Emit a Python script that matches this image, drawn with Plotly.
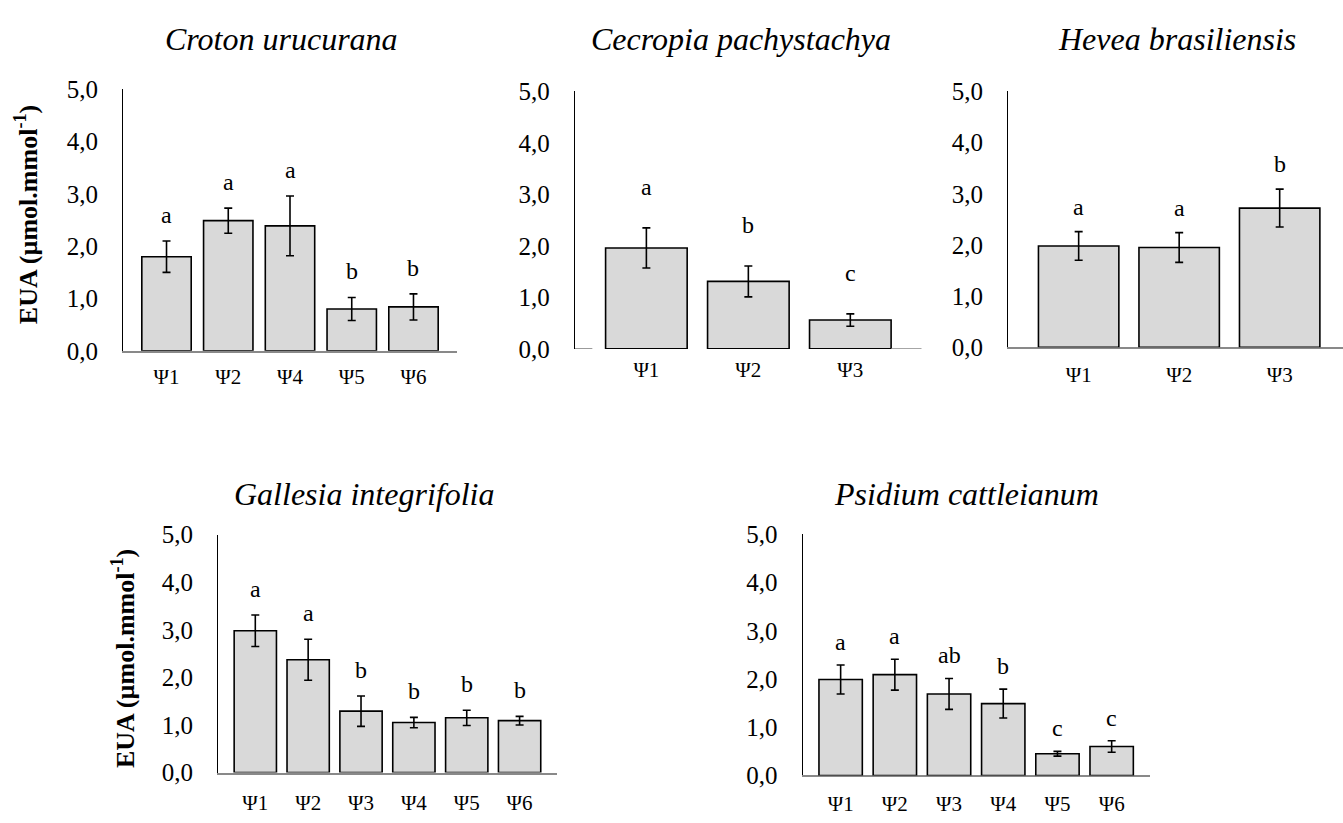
import plotly.graph_objects as go

# ---- data: water-use efficiency (EUA) per species and water-potential level ----
croton_cats = ["Ψ1", "Ψ2", "Ψ4", "Ψ5", "Ψ6"]
croton_mean = [1.80, 2.49, 2.39, 0.80, 0.84]
croton_err = [0.30, 0.24, 0.57, 0.22, 0.25]
croton_letters = ["a", "a", "a", "b", "b"]

cecropia_cats = ["Ψ1", "Ψ2", "Ψ3"]
cecropia_mean = [1.96, 1.31, 0.56]
cecropia_err = [0.39, 0.30, 0.12]
cecropia_letters = ["a", "b", "c"]

hevea_cats = ["Ψ1", "Ψ2", "Ψ3"]
hevea_mean = [1.98, 1.95, 2.72]
hevea_err = [0.28, 0.29, 0.37]
hevea_letters = ["a", "a", "b"]

gallesia_cats = ["Ψ1", "Ψ2", "Ψ3", "Ψ4", "Ψ5", "Ψ6"]
gallesia_mean = [2.98, 2.37, 1.29, 1.05, 1.15, 1.09]
gallesia_err = [0.33, 0.43, 0.32, 0.11, 0.16, 0.09]
gallesia_letters = ["a", "a", "b", "b", "b", "b"]

psidium_cats = ["Ψ1", "Ψ2", "Ψ3", "Ψ4", "Ψ5", "Ψ6"]
psidium_mean = [1.99, 2.09, 1.69, 1.49, 0.45, 0.60]
psidium_err = [0.30, 0.32, 0.32, 0.30, 0.05, 0.12]
psidium_letters = ["a", "a", "ab", "b", "c", "c"]

y_tickvals = [0, 1, 2, 3, 4, 5]
y_ticktext = ["0,0", "1,0", "2,0", "3,0", "4,0", "5,0"]
y_title = "<b>EUA (µmol.mmol<sup>-1</sup>)</b>"

W, H = 1343, 823
FONT = "Liberation Serif, Times New Roman, serif"
BAR_FILL = "#d9d9d9"
AXIS_GRAY = "#898989"

# layout of each panel in pixels: (left, right, top, bottom), x range, label pad
panels = [
    dict(title="Croton urucurana", cats=croton_cats, mean=croton_mean,
         err=croton_err, letters=croton_letters,
         box=(123.3, 456.7, 79.0, 349.3), xr=(-0.70, 4.70), pad=0.50,
         title_xy=(281, 27), xstand=6, xline=True),
    dict(title="Cecropia pachystachya", cats=cecropia_cats, mean=cecropia_mean,
         err=cecropia_err, letters=cecropia_letters,
         box=(575.0, 921.7, 81.0, 347.3), xr=(-0.70, 2.70), pad=0.80,
         title_xy=(741, 27), xstand=6, xline=False),
    dict(title="Hevea brasiliensis", cats=hevea_cats, mean=hevea_mean,
         err=hevea_err, letters=hevea_letters,
         box=(1008.3, 1343.0, 81.0, 345.7), xr=(-0.70, 2.63), pad=0.49,
         title_xy=(1177, 27), xstand=8, xline=True),
    dict(title="Gallesia integrifolia", cats=gallesia_cats, mean=gallesia_mean,
         err=gallesia_err, letters=gallesia_letters,
         box=(218.3, 556.6, 539.3, 785.3), xr=(-0.70, 5.70), pad=0.55,
         title_xy=(364, 497), xstand=11, xline=True),
    dict(title="Psidium cattleianum", cats=psidium_cats, mean=psidium_mean,
         err=psidium_err, letters=psidium_letters,
         box=(802.7, 1149.6, 539.0, 788.3), xr=(-0.70, 5.70), pad=0.48,
         title_xy=(966, 497), xstand=9, xline=True),
]

fig = go.Figure()
annotations = []
shapes = []
layout = {}

for i, p in enumerate(panels, start=1):
    xa = "x" if i == 1 else f"x{i}"
    ya = "y" if i == 1 else f"y{i}"
    xkey = "xaxis" if i == 1 else f"xaxis{i}"
    ykey = "yaxis" if i == 1 else f"yaxis{i}"
    left, right, top, bottom = p["box"]

    fig.add_trace(go.Bar(
        x=p["cats"], y=p["mean"], width=0.8,
        marker=dict(color=BAR_FILL, line=dict(color="black", width=1.6)),
        error_y=dict(type="data", array=p["err"], visible=True,
                     color="black", thickness=1.6, width=4),
        xaxis=xa, yaxis=ya, hoverinfo="skip",
    ))

    layout[xkey] = dict(
        domain=[left / W, min(right / W, 1.0)], anchor=ya,
        type="category", range=list(p["xr"]),
        showline=p["xline"], linecolor=AXIS_GRAY, linewidth=1.5,
        showgrid=False, zeroline=False, ticks="",
        ticklabelstandoff=p["xstand"], layer="below traces",
        tickfont=dict(family=FONT, size=21, color="black"),
        fixedrange=True,
    )
    layout[ykey] = dict(
        domain=[1 - bottom / H, 1 - top / H], anchor=xa,
        range=[0, 5], tickvals=y_tickvals, ticktext=y_ticktext,
        showline=True, linecolor="black", linewidth=1.4,
        showgrid=False, zeroline=False, ticks="",
        ticklabelstandoff=19,
        tickfont=dict(family=FONT, size=25, color="black"),
        fixedrange=True,
    )

    # panel 2: baseline only visible at both ends
    if not p["xline"]:
        for x0, x1 in [(p["xr"][0], -0.53), (2.40, p["xr"][1])]:
            shapes.append(dict(type="line", xref=xa, yref=ya, x0=x0, x1=x1,
                               y0=0, y1=0, line=dict(color=AXIS_GRAY, width=1.5)))

    # significance letters above each error bar
    for c, m, e, t in zip(p["cats"], p["mean"], p["err"], p["letters"]):
        annotations.append(dict(
            x=c, y=m + e + p["pad"], xref=xa, yref=ya, text=t,
            showarrow=False, yanchor="middle",
            font=dict(family=FONT, size=24, color="black"),
        ))

    # species name
    tx, ty = p["title_xy"]
    annotations.append(dict(
        x=tx / W, y=1 - ty / H, xref="paper", yref="paper",
        text=f"<i>{p['title']}</i>", showarrow=False,
        xanchor="center", yanchor="middle",
        font=dict(family=FONT, size=32, color="black"),
    ))

# y-axis titles of the left column
for xc, yc in [(26, 209), (123, 668)]:
    annotations.append(dict(
        x=xc / W, y=1 - yc / H, xref="paper", yref="paper",
        text=y_title, showarrow=False, textangle=-90,
        xanchor="center", yanchor="middle",
        font=dict(family=FONT, size=26, color="black"),
    ))

fig.update_layout(
    width=W, height=H,
    margin=dict(l=0, r=0, t=0, b=0),
    paper_bgcolor="white", plot_bgcolor="rgba(0,0,0,0)",
    showlegend=False, bargap=0.2,
    annotations=annotations, shapes=shapes,
    **layout,
)

fig.write_html("out.html", config={"displayModeBar": False})
